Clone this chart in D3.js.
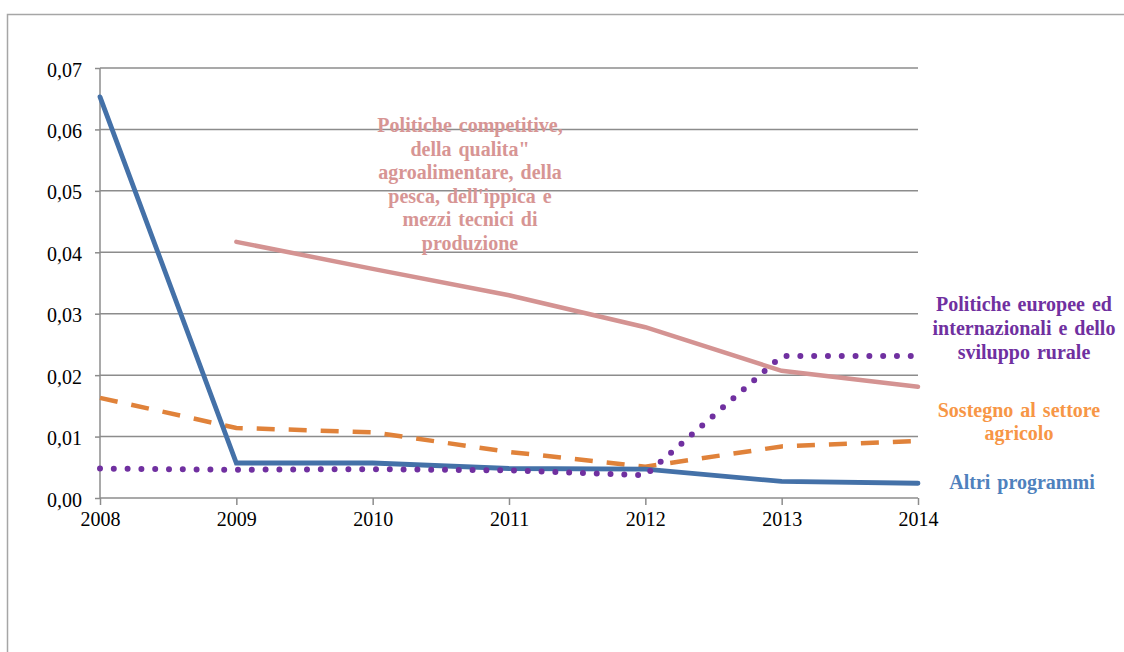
<!DOCTYPE html>
<html><head><meta charset="utf-8">
<script src="https://cdn.jsdelivr.net/npm/d3@7"></script>
<style>body{margin:0;background:#fff}svg{display:block}
text{font-family:"Liberation Serif","Times New Roman","DejaVu Serif",serif !important}</style>
</head><body>
<svg id="c" width="1124" height="652"></svg>
<script>
const years = [2008, 2009, 2010, 2011, 2012, 2013, 2014];
const altri = [0.0653, 0.0057, 0.0057, 0.0048, 0.0047, 0.0027, 0.0024];
const sostegno = [0.0163, 0.0114, 0.0107, 0.0075, 0.0051, 0.0084, 0.0093];
const competitive = [null, 0.0417, 0.0373, 0.0330, 0.0278, 0.0207, 0.0181];
const europee = [0.0048, 0.0046, 0.0047, 0.0045, 0.0037, 0.0231, 0.0231];
const yTicks = [0, 0.01, 0.02, 0.03, 0.04, 0.05, 0.06, 0.07];

const svg = d3.select("#c");
svg.append("rect").attr("x",7.5).attr("y",14.5).attr("width",1130).attr("height",660)
  .attr("fill","none").attr("stroke","#a6a6a6").attr("stroke-width",1.5);

const x = d3.scaleLinear().domain([2008,2014]).range([100,918]);
const y = d3.scaleLinear().domain([0,0.07]).range([498,68]);
const fmt = d => d3.format(".2f")(d).replace(".", ",");

// gridlines
svg.append("g").selectAll("line").data(yTicks.filter(d=>d>0)).join("line")
  .attr("x1",x(2008)).attr("x2",x(2014)).attr("y1",d=>y(d)).attr("y2",d=>y(d))
  .attr("stroke","#8c8c8c").attr("stroke-width",1.5);

const yAxis = svg.append("g").attr("transform",`translate(${x(2008)},0)`)
  .call(d3.axisLeft(y).tickValues(yTicks).tickFormat(fmt).tickSize(5).tickPadding(13));
const xAxis = svg.append("g").attr("transform",`translate(0,${y(0)})`)
  .call(d3.axisBottom(x).tickValues(years).tickFormat(d3.format("d")).tickSize(7).tickPadding(7));
[yAxis,xAxis].forEach(a=>{
  a.attr("font-family",null).attr("font-size",null);
  a.selectAll("path,line").attr("stroke","#8c8c8c").attr("stroke-width",1.5);
  a.selectAll("text").style("font-size","20px").attr("fill","#000");
});
yAxis.selectAll("text").attr("dy","0.4em");
yAxis.select(".domain").attr("d",`M0,${y(0)}V${y(0.07)}`);
xAxis.select(".domain").attr("d",`M${x(2008)},0H${x(2014)}`);

const line = d3.line().defined(d=>d[1]!=null).x(d=>x(d[0])).y(d=>y(d[1]));
const mk = arr => years.map((yr,i)=>[yr,arr[i]]);

svg.append("path").datum(mk(competitive)).attr("d",line).attr("fill","none")
  .attr("stroke","#d49392").attr("stroke-width",4.5).attr("stroke-linecap","round");
svg.append("path").datum(mk(sostegno)).attr("d",line).attr("fill","none")
  .attr("stroke","#e0823a").attr("stroke-width",4.5).attr("stroke-dasharray","18,14");
svg.append("path").datum(mk(altri)).attr("d",line).attr("fill","none")
  .attr("stroke","#4471a8").attr("stroke-width",4.8).attr("stroke-linecap","round");
svg.append("path").datum(mk(europee)).attr("d",line).attr("fill","none")
  .attr("stroke","#7030a0").attr("stroke-width",6).attr("stroke-linecap","round")
  .attr("stroke-dasharray","0,13.8");

// labels
function label(lines, cx, y0, dy, color){
  const t = svg.append("text").attr("font-weight","bold")
    .style("font-size","20px").style("word-spacing","2px").attr("fill",color).attr("text-anchor","middle");
  lines.forEach((s,i)=>t.append("tspan").attr("x",cx).attr("y",y0+i*dy).text(s));
}
label(["Politiche competitive,","della qualita\"","agroalimentare, della","pesca, dell'ippica e","mezzi tecnici di","produzione"], 470, 132, 23.6, "#d79594");
label(["Politiche europee ed","internazionali e dello","sviluppo rurale"], 1024, 311, 24, "#7030a0");
label(["Sostegno al settore","agricolo"], 1019, 417, 23, "#f79646");
label(["Altri programmi"], 1022, 489, 24, "#4f81bd");
</script>
</body></html>
